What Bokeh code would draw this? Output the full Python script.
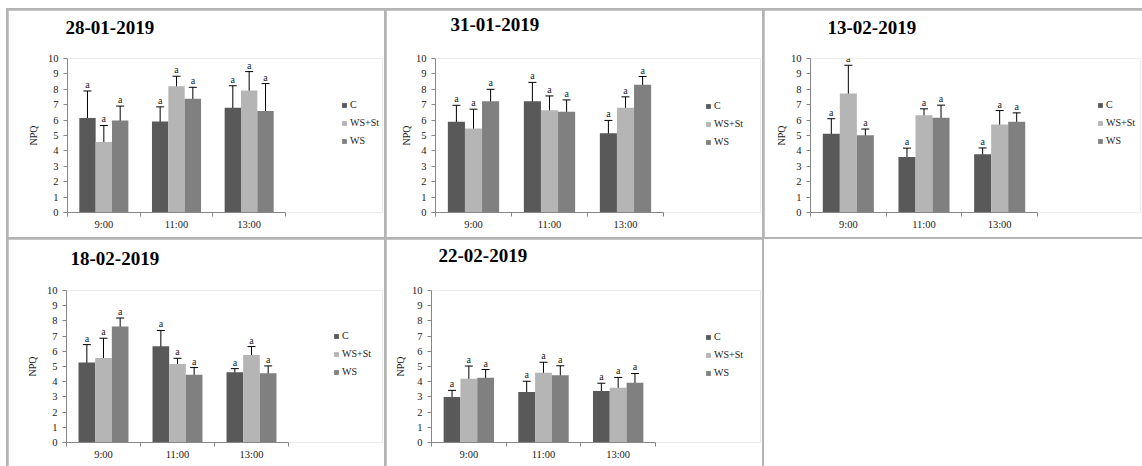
from bokeh.plotting import figure
from bokeh.models import (ColumnDataSource, Range1d, FixedTicker, SingleIntervalTicker,
                          Whisker, TeeHead, Legend, LegendItem, Spacer, Title)
from bokeh.layouts import row, column
from bokeh.core.properties import value
from bokeh.embed import file_html
from bokeh.resources import INLINE

# Sampling times, treatments and colours
times = ["9:00", "11:00", "13:00"]
series = ["C", "WS+St", "WS"]
colors = ["#595959", "#b5b5b5", "#808080"]
sig_letters = ["a", "a", "a"]

# NPQ means and standard errors, one row per treatment (C, WS+St, WS), columns = times
dates = ["28-01-2019", "31-01-2019", "13-02-2019", "18-02-2019", "22-02-2019"]

mean_2801 = [[6.13, 5.91, 6.80], [4.57, 8.20, 7.93], [5.98, 7.39, 6.59]]
err_2801 = [[1.76, 0.95, 1.43], [1.08, 0.65, 1.22], [0.93, 0.74, 1.78]]

mean_3101 = [[5.89, 7.22, 5.14], [5.46, 6.64, 6.81], [7.22, 6.55, 8.29]]
err_3101 = [[1.07, 1.23, 0.84], [1.25, 0.93, 0.70], [0.78, 0.76, 0.54]]

mean_1302 = [[5.12, 3.61, 3.78], [7.73, 6.31, 5.72], [5.01, 6.16, 5.90]]
err_1302 = [[0.97, 0.57, 0.41], [1.83, 0.42, 0.90], [0.41, 0.81, 0.57]]

mean_1802 = [[5.27, 6.33, 4.62], [5.56, 5.16, 5.76], [7.63, 4.46, 4.55]]
err_1802 = [[1.17, 1.04, 0.24], [1.30, 0.38, 0.55], [0.56, 0.47, 0.49]]

mean_2202 = [[2.99, 3.32, 3.38], [4.19, 4.59, 3.60], [4.26, 4.43, 3.93]]
err_2202 = [[0.44, 0.71, 0.52], [0.84, 0.69, 0.68], [0.54, 0.62, 0.61]]

FONT = "Liberation Serif"
AXIS_GREY = "#868686"
TEXT = "#1a1a1a"
BAR_W = 0.225
RIGHT_PAD = 2


def make_panel(title, means, errs, w, h, left, top, bottom, axis_px,
               title_off, title_gap, label_gap, leg_x, leg_y):
    n = len(times)
    # the frame also hosts the legend; the category axis only spans [0, n]
    frame_w = w - left - RIGHT_PAD
    x_end = frame_w / (axis_px / n)
    p = figure(width=w, height=h, x_range=Range1d(0, x_end), y_range=Range1d(0, 10),
               output_backend="svg", toolbar_location=None,
               min_border_left=left, min_border_top=top,
               min_border_bottom=h - bottom, min_border_right=RIGHT_PAD)
    p.background_fill_color = "white"
    p.border_fill_color = "white"
    p.outline_line_color = None
    p.xgrid.visible = False
    p.ygrid.visible = False

    centers = [i + 0.5 for i in range(n)]
    items = []
    for j, name in enumerate(series):
        off = (j - 1) * BAR_W
        xb = [c + off for c in centers]
        m = means[j]
        e = errs[j]
        src = ColumnDataSource(dict(
            x=xb, mean=m,
            upper=[a + b for a, b in zip(m, e)],
            lower=[a - b for a, b in zip(m, e)],
            sig=sig_letters,
        ))
        r = p.vbar(x="x", top="mean", width=BAR_W, source=src,
                   fill_color=colors[j], line_color=None)
        items.append(LegendItem(label=name, renderers=[r]))
        wh = Whisker(source=src, base="x", upper="upper", lower="lower",
                     line_color="black", line_width=1,
                     upper_head=TeeHead(size=8, line_color="black", line_width=1),
                     lower_head=TeeHead(size=8, line_color="black", line_width=1))
        p.add_layout(wh)
        p.text(x="x", y="upper", text="sig", source=src, text_align="center",
               text_baseline="bottom", y_offset=-1, text_font=value(FONT),
               text_font_size="10px", text_color=TEXT)

    # category axis: labels centred, tick marks on the category boundaries
    xa = p.xaxis[0]
    xa.bounds = (0, n)
    xa.ticker = FixedTicker(ticks=centers, minor_ticks=list(range(n + 1)))
    xa.major_label_overrides = {c: t for c, t in zip(centers, times)}
    xa.major_tick_line_color = None
    xa.major_tick_out = 0
    xa.minor_tick_out = 4
    xa.minor_tick_in = 0
    xa.minor_tick_line_color = AXIS_GREY
    xa.axis_line_color = AXIS_GREY
    xa.major_label_standoff = 2
    xa.major_label_text_font = FONT
    xa.major_label_text_font_size = "10.5px"
    xa.major_label_text_color = TEXT

    ya = p.yaxis[0]
    ya.ticker = SingleIntervalTicker(interval=1, num_minor_ticks=0)
    ya.axis_line_color = AXIS_GREY
    ya.major_tick_line_color = AXIS_GREY
    ya.major_tick_out = 4
    ya.major_tick_in = 0
    ya.minor_tick_line_color = None
    ya.major_label_standoff = 5
    ya.major_label_text_font = FONT
    ya.major_label_text_font_size = "10.5px"
    ya.major_label_text_color = TEXT
    ya.axis_label = "NPQ"
    ya.axis_label_text_font = FONT
    ya.axis_label_text_font_size = "10px"
    ya.axis_label_text_font_style = "normal"
    ya.axis_label_text_color = TEXT
    ya.axis_label_standoff = label_gap

    # empty spacer title keeps the date heading clear of the plot area
    p.title.text = ""
    p.add_layout(Title(text=" ", text_font_size="1px", standoff=title_gap), "above")
    p.add_layout(Title(text=title, text_font=FONT, text_font_size="19px",
                       text_font_style="bold", text_color="black",
                       align="left", offset=title_off, standoff=0), "above")

    legend = Legend(items=items, location=(leg_x, leg_y),
                    background_fill_alpha=0, border_line_color=None,
                    padding=0, margin=0, spacing=7,
                    glyph_width=6, glyph_height=6, label_height=11,
                    label_standoff=3,
                    label_text_font=FONT, label_text_font_size="10px",
                    label_text_color=TEXT)
    p.add_layout(legend)
    return p


p1 = make_panel(dates[0], mean_2801, err_2801, 376, 227, 59, 48, 202, 218, -2, 22, 6, 274, 66)
p2 = make_panel(dates[1], mean_3101, err_3101, 376, 227, 49, 46, 202, 228, 15, 25, 1, 270, 65)
p3 = make_panel(dates[2], mean_1302, err_1302, 378, 227, 46, 47, 202, 227, 17, 22, 1, 287, 66)
p4 = make_panel(dates[3], mean_1802, err_1802, 376, 227, 58, 51, 203, 222, 4, 23, 6, 267, 65)
p5 = make_panel(dates[4], mean_2202, err_2202, 376, 227, 45, 50, 203, 224, 7, 26, 3, 274, 64)

blank = Spacer(width=378, height=227, styles={"background-color": "white"})

top_row = row(Spacer(width=0, height=227), p1, p2, p3, spacing=2)
bottom_row = row(Spacer(width=0, height=227), p4, p5, blank, spacing=2)
layout = column(Spacer(width=0, height=0), top_row, bottom_row, spacing=2,
                margin=(8, 0, 0, 6), styles={"background-color": "#b4b4b4"})

open("out.html", "w").write(file_html(layout, INLINE))
